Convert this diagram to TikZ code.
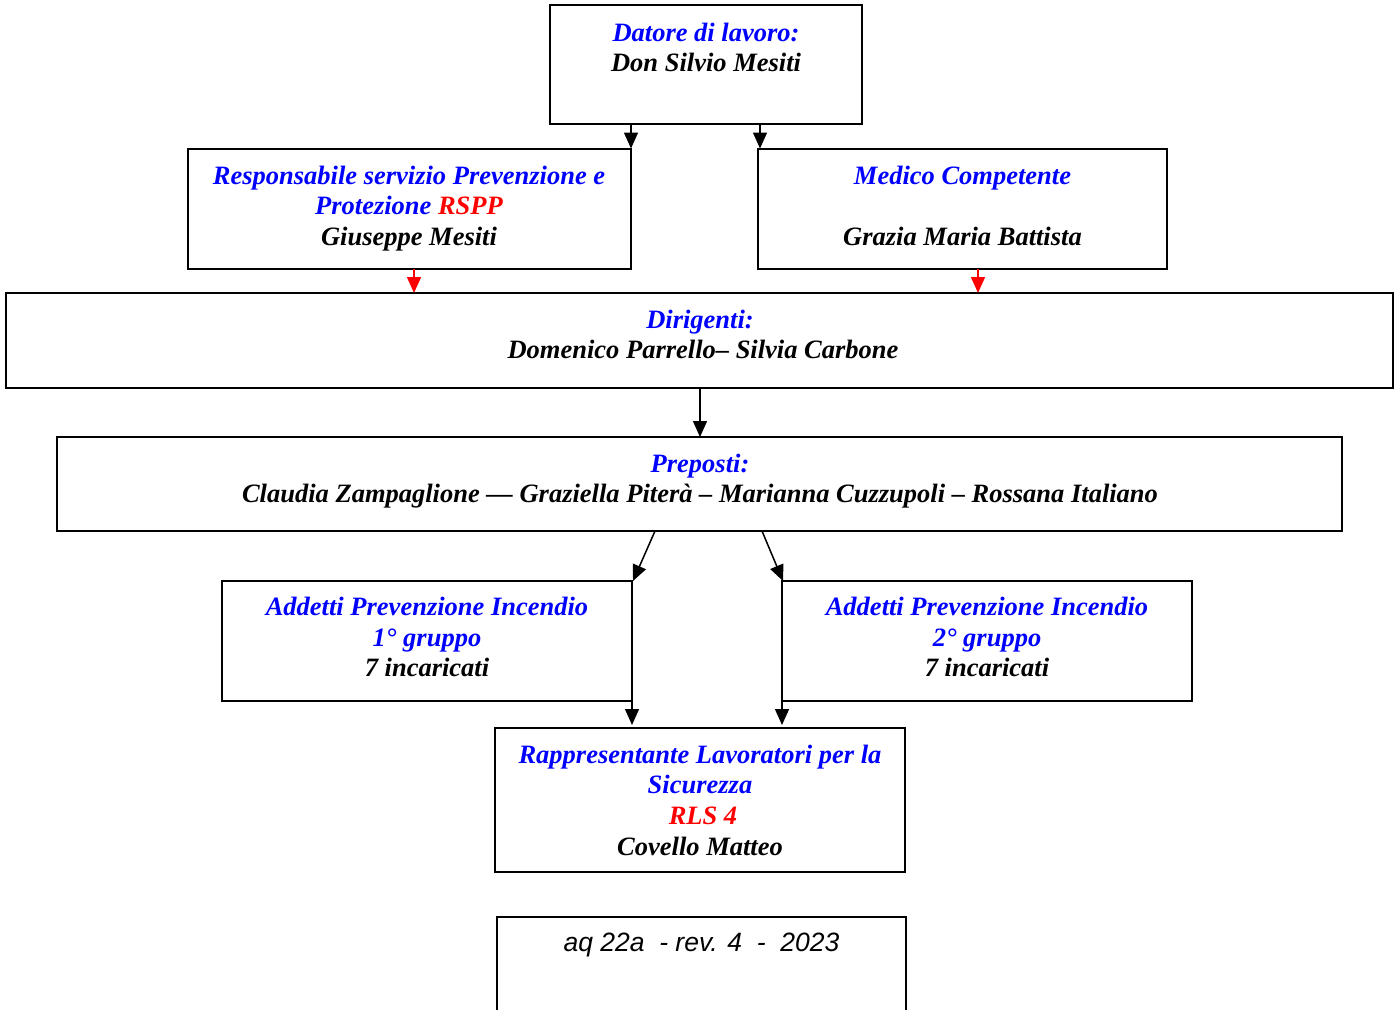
\documentclass[tikz,border=0pt]{standalone}
\usepackage{fontspec}
\setmainfont{Liberation Serif}
\newfontfamily\arialfont{Liberation Sans}
\usetikzlibrary{arrows.meta}
\definecolor{tblue}{RGB}{0,0,255}
\definecolor{tred}{RGB}{255,0,0}
\tikzset{
  box/.style={draw=black, line width=2pt, inner sep=0pt, outer sep=0pt, rectangle},
  txt/.style={inner sep=0pt, anchor=base, font=\fontsize{26.5}{31}\selectfont\bfseries\itshape},
  blu/.style={txt, text=tblue},
  blk/.style={txt, text=black},
  arr/.style={line width=1.5pt, -{Triangle[length=16pt,width=14pt]}},
  rarr/.style={arr, draw=tred, -{Triangle[length=16pt,width=14pt,fill=tred]}}
}
\begin{document}
\begin{tikzpicture}[x=1pt,y=-1pt]
\clip (0,0) rectangle (1399,1009);
\fill[white] (0,0) rectangle (1399,1009);
% boxes
\node[box, minimum width=312pt, minimum height=119pt] (datore) at (706,64.5) {};
\node[box, minimum width=443pt, minimum height=120pt] (rspp) at (409,208.5) {};
\node[box, minimum width=409pt, minimum height=120pt] (medico) at (962.5,208.5) {};
\node[box, minimum width=1387pt, minimum height=95pt] (dir) at (699.5,340.5) {};
\node[box, minimum width=1285pt, minimum height=94pt] (prep) at (699.5,484) {};
\node[box, minimum width=410pt, minimum height=120pt] (api1) at (427,641) {};
\node[box, minimum width=410pt, minimum height=120pt] (api2) at (987,641) {};
\node[box, minimum width=410pt, minimum height=144pt] (rls) at (700,800) {};
\node[box, minimum width=409pt, minimum height=123pt] (rev) at (701.5,978.5) {};
% texts
\node[blu] (t1a) at (706,41) {Datore di lavoro:};
\node[blk] (t1b) at (706,71) {Don Silvio Mesiti};
\node[blu] (t2a) at (409,184) {Responsabile servizio Prevenzione e};
\node[blu] (t2b) at (409,214) {Protezione \textcolor{tred}{RSPP}};
\node[blk] (t2c) at (409,245) {Giuseppe Mesiti};
\node[blu] (t3a) at (962.5,184) {Medico Competente};
\node[blk] (t3b) at (962.5,245) {Grazia Maria Battista};
\node[blu] (t4a) at (700,328) {Dirigenti:};
\node[blk] (t4b) at (703,358) {Domenico Parrello– Silvia Carbone};
\node[blu] (t5a) at (700,472) {Preposti:};
\node[blk] (t5b) at (700,502) {Claudia Zampaglione — Graziella Piterà – Marianna Cuzzupoli – Rossana Italiano};
\node[blu] (t6a) at (427,615) {Addetti Prevenzione Incendio};
\node[blu] (t6b) at (427,646) {1° gruppo};
\node[blk] (t6c) at (427,676) {7 incaricati};
\node[blu] (t7a) at (987,615) {Addetti Prevenzione Incendio};
\node[blu] (t7b) at (987,646) {2° gruppo};
\node[blk] (t7c) at (987,676) {7 incaricati};
\node[blu] (t8a) at (700,763) {Rappresentante Lavoratori per la};
\node[blu] (t8b) at (700,793) {Sicurezza};
\node[txt, text=tred] (t8c) at (703,824) {RLS 4};
\node[blk] (t8d) at (700,855) {Covello Matteo};
\node[inner sep=0pt, anchor=base, font=\fontsize{26.5}{31}\selectfont\arialfont\itshape] (t9) at (701.5,951) {aq 22a\ \ - rev. 4\ \ -\ \ 2023};
% connector x positions
\coordinate (x1) at (631,0);
\coordinate (x2) at (760,0);
\coordinate (x3) at (414,0);
\coordinate (x4) at (978,0);
\coordinate (x5) at (700,0);
\coordinate (x6s) at (655,0);
\coordinate (x6e) at (633,0);
\coordinate (x7s) at (762,0);
\coordinate (x7e) at (783,0);
\coordinate (x8) at (632,0);
\coordinate (x9) at (782,0);
% connectors
\draw[arr] (datore.south -| x1) -- (rspp.north -| x1);
\draw[arr] (datore.south -| x2) -- (medico.north -| x2);
\draw[rarr] (rspp.south -| x3) -- (dir.north -| x3);
\draw[rarr] (medico.south -| x4) -- (dir.north -| x4);
\draw[arr] (dir.south -| x5) -- (prep.north -| x5);
\draw[arr] (prep.south -| x6s) -- (api1.north -| x6e);
\draw[arr] (prep.south -| x7s) -- (api2.north -| x7e);
\draw[arr] (api1.south -| x8) -- ([yshift=3pt]rls.north -| x8);
\draw[arr] (api2.south -| x9) -- ([yshift=3pt]rls.north -| x9);
\end{tikzpicture}
\end{document}
